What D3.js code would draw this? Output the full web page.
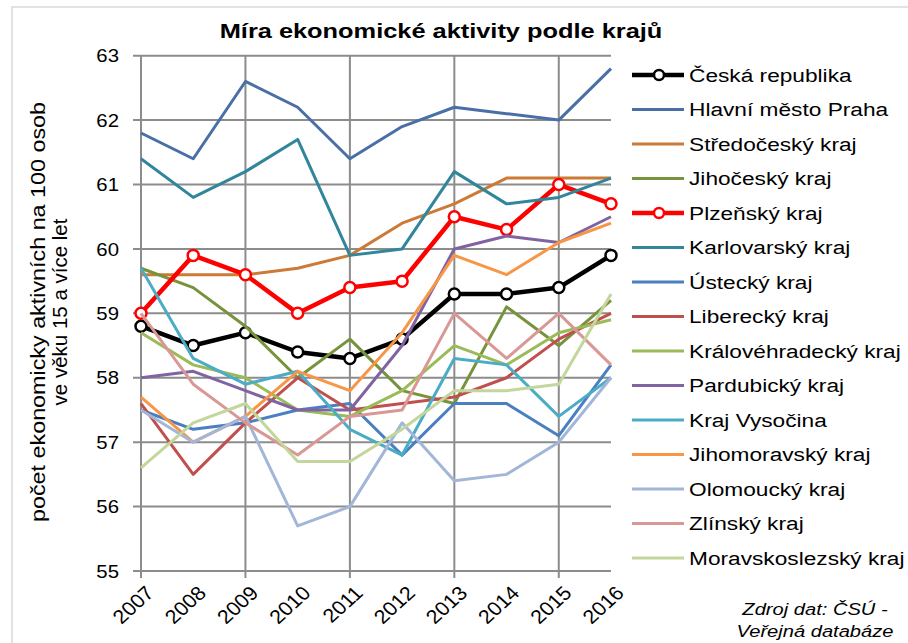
<!DOCTYPE html>
<html>
<head>
<meta charset="utf-8">
<script src="https://cdn.jsdelivr.net/npm/d3@7"></script>
<style>
  body { margin: 0; background: #fff; }
  svg { display: block; }
  text { font-family: "Liberation Sans", Arial, sans-serif; fill: #000; }
</style>
</head>
<body>
<svg id="chart" width="908" height="643"></svg>
<script>
const title = "Míra ekonomické aktivity podle krajů";
const yAxisTitle = ["počet ekonomicky aktivních na 100 osob", "ve věku 15 a více let"];
const sourceLines = ["Zdroj dat: ČSÚ -", "Veřejná databáze"];
const years = [2007, 2008, 2009, 2010, 2011, 2012, 2013, 2014, 2015, 2016];
const yTicks = [55, 56, 57, 58, 59, 60, 61, 62, 63];

const seriesNames = [
  "Česká republika", "Hlavní město Praha", "Středočeský kraj", "Jihočeský kraj",
  "Plzeňský kraj", "Karlovarský kraj", "Ústecký kraj", "Liberecký kraj",
  "Královéhradecký kraj", "Pardubický kraj", "Kraj Vysočina", "Jihomoravský kraj",
  "Olomoucký kraj", "Zlínský kraj", "Moravskoslezský kraj"
];
const cr        = [58.8, 58.5, 58.7, 58.4, 58.3, 58.6, 59.3, 59.3, 59.4, 59.9];
const praha     = [61.8, 61.4, 62.6, 62.2, 61.4, 61.9, 62.2, 62.1, 62.0, 62.8];
const stredo    = [59.6, 59.6, 59.6, 59.7, 59.9, 60.4, 60.7, 61.1, 61.1, 61.1];
const jihoc     = [59.7, 59.4, 58.8, 58.0, 58.6, 57.8, 57.6, 59.1, 58.5, 59.2];
const plzen     = [59.0, 59.9, 59.6, 59.0, 59.4, 59.5, 60.5, 60.3, 61.0, 60.7];
const karlov    = [61.4, 60.8, 61.2, 61.7, 59.9, 60.0, 61.2, 60.7, 60.8, 61.1];
const ustec     = [57.5, 57.2, 57.3, 57.5, 57.6, 56.8, 57.6, 57.6, 57.1, 58.2];
const liber     = [57.6, 56.5, 57.3, 58.0, 57.5, 57.6, 57.7, 58.0, 58.6, 59.0];
const kralov    = [58.7, 58.2, 58.0, 57.5, 57.4, 57.8, 58.5, 58.2, 58.7, 58.9];
const pardub    = [58.0, 58.1, 57.8, 57.5, 57.5, 58.5, 60.0, 60.2, 60.1, 60.5];
const vysoc     = [59.7, 58.3, 57.9, 58.1, 57.2, 56.8, 58.3, 58.2, 57.4, 58.0];
const jihom     = [57.7, 57.0, 57.4, 58.1, 57.8, 58.7, 59.9, 59.6, 60.1, 60.4];
const olom      = [57.5, 57.0, 57.4, 55.7, 56.0, 57.3, 56.4, 56.5, 57.0, 58.0];
const zlin      = [59.0, 57.9, 57.3, 56.8, 57.4, 57.5, 59.0, 58.3, 59.0, 58.2];
const morav     = [56.6, 57.3, 57.6, 56.7, 56.7, 57.2, 57.8, 57.8, 57.9, 59.3];

const seriesValues = [cr, praha, stredo, jihoc, plzen, karlov, ustec, liber,
  kralov, pardub, vysoc, jihom, olom, zlin, morav];
const seriesColors = ["#000000", "#4a6ea6", "#cc7a36", "#77933c", "#ff0000", "#31869b",
  "#4a7fc0", "#c0504d", "#9bbb59", "#8064a2", "#4bacc6", "#f79646",
  "#a2b6d8", "#d99795", "#c3d69b"];
const markerSeries = ["Česká republika", "Plzeňský kraj"];

const SX = 1.22; // horizontal stretch of text in the reference

const svg = d3.select("#chart");

// frame
svg.append("rect").attr("x", 12).attr("y", 7).attr("width", 1000).attr("height", 700)
  .attr("fill", "none").attr("stroke", "#d9d9d9").attr("stroke-width", 1.5);

const x = d3.scalePoint().domain(years).range([141, 611]);
const y = d3.scaleLinear().domain([55, 63]).range([571, 55.7]);

function stretchedText(g, tx, ty, str, opts) {
  const grp = g.append("g").attr("transform",
    `translate(${tx},${ty}) scale(${opts.sx || SX},1)` + (opts.rot ? ` rotate(${opts.rot})` : ""));
  const t = grp.append("text").text(str)
    .attr("text-anchor", opts.anchor || "start")
    .attr("dominant-baseline", opts.baseline || "auto")
    .style("font-size", opts.size + "px");
  if (opts.weight) t.style("font-weight", opts.weight);
  if (opts.italic) t.style("font-style", "italic");
  return t;
}

// gridlines
const grid = svg.append("g");
grid.selectAll("line.h").data(yTicks).join("line")
  .attr("x1", 133).attr("x2", 611)
  .attr("y1", d => y(d)).attr("y2", d => y(d))
  .attr("stroke", "#8c8c8c").attr("stroke-width", 2);
grid.selectAll("line.v").data(years.filter(d => d % 2 === 1)).join("line")
  .attr("x1", d => x(d)).attr("x2", d => x(d))
  .attr("y1", y(63)).attr("y2", y(55) + 7)
  .attr("stroke", "#8c8c8c").attr("stroke-width", 2);

// y tick labels
yTicks.forEach(v => stretchedText(svg, 119, y(v), String(v),
  { anchor: "end", baseline: "central", size: 18.5, sx: 1.1 }));

// x tick labels
years.forEach(yr => stretchedText(svg, x(yr) + 3, y(55) + 13, String(yr),
  { anchor: "end", baseline: "hanging", size: 19.5, rot: -45, sx: 1.1 }));

// y axis title
yAxisTitle.forEach((s, i) => {
  const g = svg.append("g").attr("transform", `translate(${45 + i * 22},312) rotate(-90)`);
  const t = g.append("text").text(s).attr("text-anchor", "middle")
    .style("font-size", "20.5px");
  if (i === 0) t.attr("textLength", 420).attr("lengthAdjust", "spacingAndGlyphs");
});

// lines
const line = d3.line().x((d, i) => x(years[i])).y(d => y(d));
const linesG = svg.append("g");
seriesNames.forEach((name, si) => {
  const bold = markerSeries.includes(name);
  linesG.append("path").datum(seriesValues[si])
    .attr("d", line).attr("fill", "none")
    .attr("stroke", seriesColors[si])
    .attr("stroke-width", bold ? 4.5 : 3)
    .attr("stroke-linejoin", "round");
  if (bold) {
    linesG.selectAll(null).data(seriesValues[si]).join("circle")
      .attr("cx", (d, i) => x(years[i])).attr("cy", d => y(d)).attr("r", 5.5)
      .attr("fill", "#fff").attr("stroke", seriesColors[si]).attr("stroke-width", 2.5);
  }
});

// title
stretchedText(svg, 441, 38, title, { anchor: "middle", size: 20.8, weight: "bold" });

// legend
const lg = svg.append("g");
seriesNames.forEach((name, i) => {
  const ly = 75 + i * 34.5;
  const bold = markerSeries.includes(name);
  lg.append("line").attr("x1", 632).attr("x2", 684).attr("y1", ly).attr("y2", ly)
    .attr("stroke", seriesColors[i]).attr("stroke-width", bold ? 4.5 : 3);
  if (bold) {
    lg.append("circle").attr("cx", 659).attr("cy", ly).attr("r", 5)
      .attr("fill", "#fff").attr("stroke", seriesColors[i]).attr("stroke-width", 2.5);
  }
  stretchedText(lg, 689, ly, name, { anchor: "start", baseline: "central", size: 18.6 });
});

// source
sourceLines.forEach((s, i) => stretchedText(svg, 815, 615 + i * 22, s,
  { anchor: "middle", size: 16.5, italic: true }));
</script>
</body>
</html>
